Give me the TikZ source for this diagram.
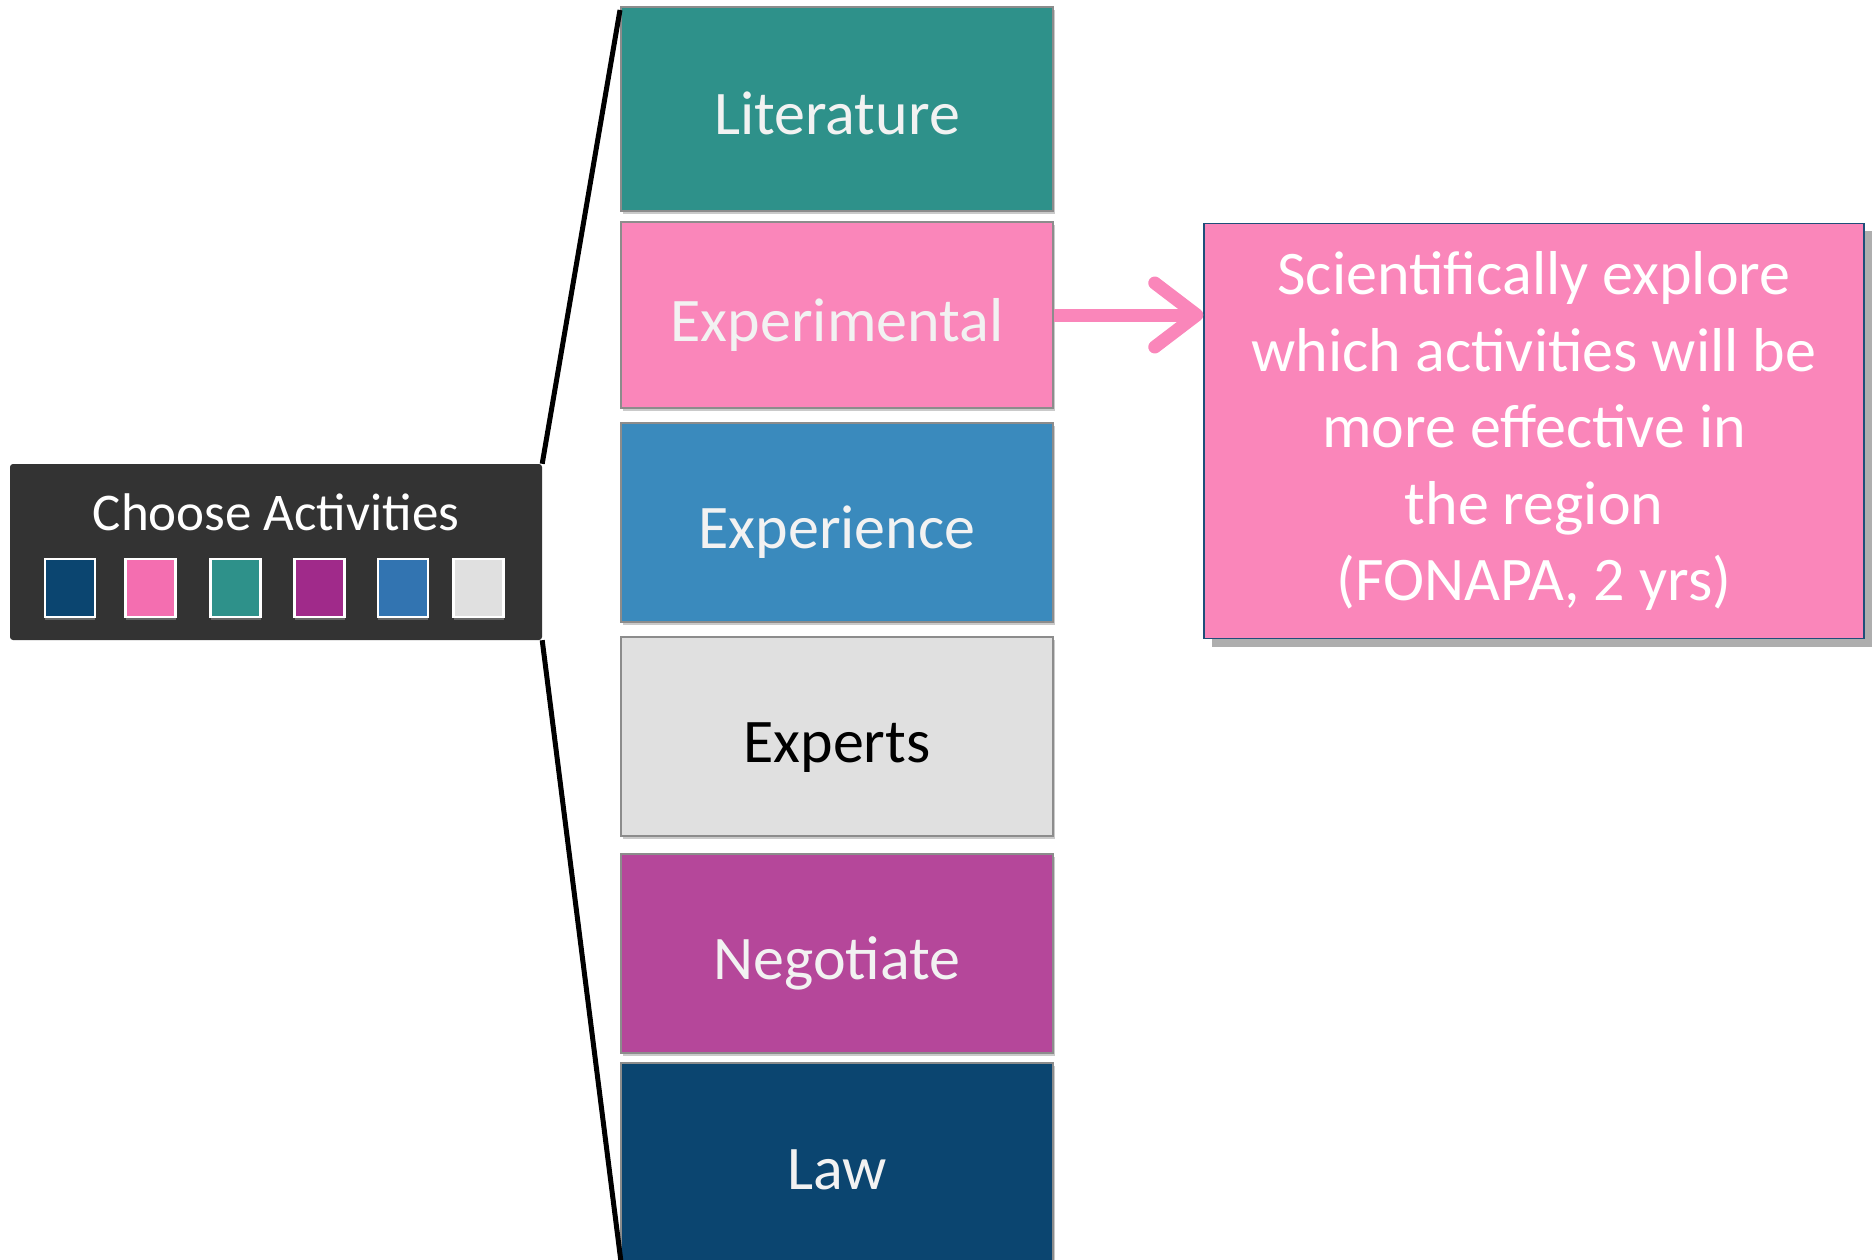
\documentclass[tikz,border=0pt]{standalone}
\usepackage{fontspec}
\setmainfont{Carlito}
\usetikzlibrary{arrows.meta,shadows,calc}
\definecolor{cTeal}{HTML}{2E918A}
\definecolor{cPink}{HTML}{FA86BA}
\definecolor{cBlue}{HTML}{3A8ABD}
\definecolor{cGrey}{HTML}{E0E0E0}
\definecolor{cPurple}{HTML}{B5479A}
\definecolor{cNavy}{HTML}{0B4570}
\definecolor{sNavy}{HTML}{0B4570}
\definecolor{sPink}{HTML}{F46EB0}
\definecolor{sTeal}{HTML}{2E918A}
\definecolor{sPurple}{HTML}{A02A8A}
\definecolor{sBlue}{HTML}{3274B1}
\definecolor{sGrey}{HTML}{E0E0E0}
\definecolor{cDark}{HTML}{333333}
\definecolor{cLight}{HTML}{F2F2F2}
\definecolor{cBorder}{HTML}{8C8C8C}
\definecolor{cRBorder}{HTML}{1F4E79}
\tikzset{
  colbox/.style={draw=cBorder, line width=2pt, minimum width=432pt, inner sep=0pt,
    text height=52pt, text depth=0pt,
    font=\fontsize{62}{74}\selectfont,
    drop shadow={shadow xshift=2pt, shadow yshift=-3pt, opacity=0.35, fill=black!60}},
  swatch/.style={draw=white, line width=2.5pt, minimum width=50pt, minimum height=58pt, inner sep=0pt,
    drop shadow={shadow xshift=0pt, shadow yshift=-3pt, opacity=0.25, fill=white}},
  connline/.style={line width=5pt, black},
  arr/.style={line width=13pt, cPink, -{Straight Barb[length=42pt, width=64pt, round]}}
}
\begin{document}
\begin{tikzpicture}[x=1pt,y=-1pt]
\useasboundingbox (0,0) rectangle (1875,1260);
\begin{scope}
\clip (0,0) rectangle (1875,1260);
% column boxes
\node[colbox, fill=cTeal, text=cLight, minimum height=204pt] (lit) at (837,109) {Literature};
\node[colbox, fill=cPink, text=cLight, minimum height=186pt] (exper) at (837,315) {Experimental};
\node[colbox, fill=cBlue, text=cLight, minimum height=199pt] (expc) at (837,522.5) {Experience};
\node[colbox, fill=cGrey, text=black, minimum height=199pt] (expt) at (837,736.5) {Experts};
\node[colbox, fill=cPurple, text=cLight, minimum height=199pt] (neg) at (837,953.5) {Negotiate};
\node[colbox, fill=cNavy, text=cLight, minimum height=201pt] (law) at (837,1163.5) {Law};
\coordinate (lawend) at (621,1262);

% left box
\node[fill=cDark, rounded corners=3pt, minimum width=532pt, minimum height=176pt, inner sep=0pt] (lb) at (276,552) {};
\node[text=white, font=\fontsize{53}{64}\selectfont, inner sep=0pt] (lbt) at (276,512) {Choose Activities};
\node[swatch, fill=sNavy] (s1) at (70,588) {};
\node[swatch, fill=sPink] (s2) at (150.5,588) {};
\node[swatch, fill=sTeal] (s3) at (235.5,588) {};
\node[swatch, fill=sPurple] (s4) at (319.5,588) {};
\node[swatch, fill=sBlue] (s5) at (403,588) {};
\node[swatch, fill=sGrey] (s6) at (478.5,588) {};

% connector lines
\draw[connline] (lb.north east) -- ($(lit.north west)+(0,4)$);
\draw[connline] (lb.south east) -- (lawend);

% right box
\node[draw=cRBorder, line width=1.5pt, fill=cPink, minimum width=660pt, minimum height=415pt,
      inner sep=0pt, align=center, text=white, font=\fontsize{62}{76.5}\selectfont,
      drop shadow={shadow xshift=8pt, shadow yshift=-8pt, opacity=0.45, fill=black!70}] (rb) at (1534,431)
  {Scientifically explore\\which activities will be\\more effective in\\the region\\(FONAPA, 2 yrs)};

% arrow
\draw[arr] (exper.east) -- (exper.east -| rb.west);
\end{scope}
\end{tikzpicture}
\end{document}
